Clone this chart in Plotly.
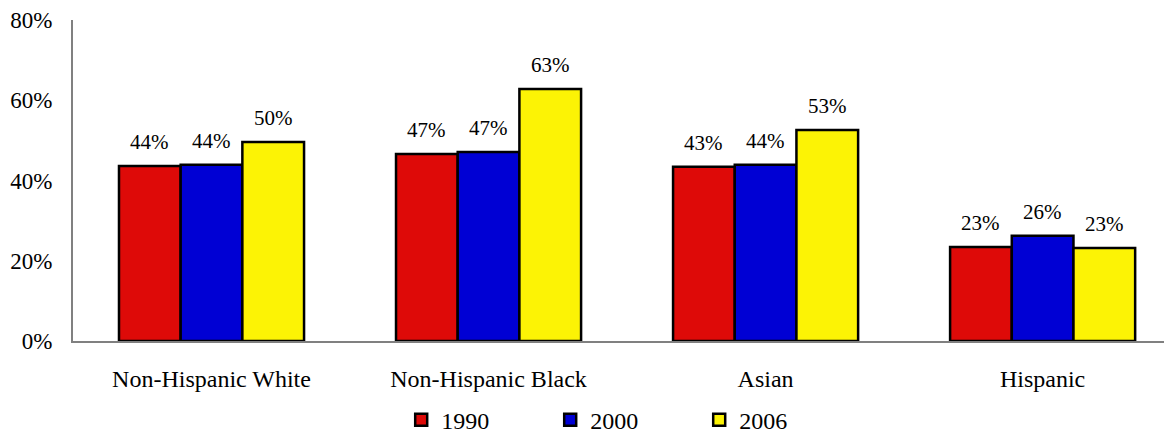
import plotly.graph_objects as go

categories = ["Non-Hispanic White", "Non-Hispanic Black", "Asian", "Hispanic"]
years = ["1990", "2000", "2006"]
vals_1990 = [43.6, 46.6, 43.4, 23.4]
vals_2000 = [43.9, 47.1, 43.9, 26.2]
vals_2006 = [49.6, 62.8, 52.6, 23.2]
colors = ["#DE0A08", "#0000D4", "#FCF305"]

series = [vals_1990, vals_2000, vals_2006]
FONT = "Liberation Serif, Times New Roman, serif"
BARGAP = 0.332

fig = go.Figure()
for yr, vals, col in zip(years, series, colors):
    fig.add_trace(go.Bar(
        x=categories, y=vals, name=yr,
        marker=dict(color=col, line=dict(color="black", width=2.5)),
        hoverinfo="skip",
    ))

# value labels above each bar, placed at the bar centres of the group
bw = (1 - BARGAP) / len(series)
for i, vals in enumerate(series):
    off = (i - (len(series) - 1) / 2) * bw
    for j, v in enumerate(vals):
        fig.add_annotation(x=j + off, y=v, text=f"{round(v)}%", showarrow=False,
                           yanchor="bottom", yshift=10,
                           font=dict(family=FONT, size=21, color="black"))

# page body has an 8px margin, so the figure is offset by 8px
fig.update_layout(
    width=1164, height=425,
    barmode="group", bargap=BARGAP, bargroupgap=0,
    plot_bgcolor="white", paper_bgcolor="white",
    margin=dict(l=65, r=0, t=12, b=92, autoexpand=False),
    font=dict(family=FONT, size=24, color="black"),
    showlegend=True,
    legend=dict(orientation="h", x=0.502, xanchor="center", yref="container",
                y=0.03, yanchor="middle",
                entrywidth=104, font=dict(size=24), itemwidth=30),
)
fig.update_xaxes(range=[-0.5, 3.467], showline=True, linecolor="#808080", linewidth=2,
                 ticks="", ticklabelstandoff=15, tickfont=dict(size=24), automargin=False)
fig.update_yaxes(range=[0, 80], tickvals=[0, 20, 40, 60, 80], ticktext=["0%", "20%", "40%", "60%", "80%"],
                 showgrid=False, zeroline=False, showline=True, linecolor="#808080", linewidth=2,
                 ticks="", ticklabelstandoff=14, tickfont=dict(size=23), automargin=False)

fig.write_html("out.html")
